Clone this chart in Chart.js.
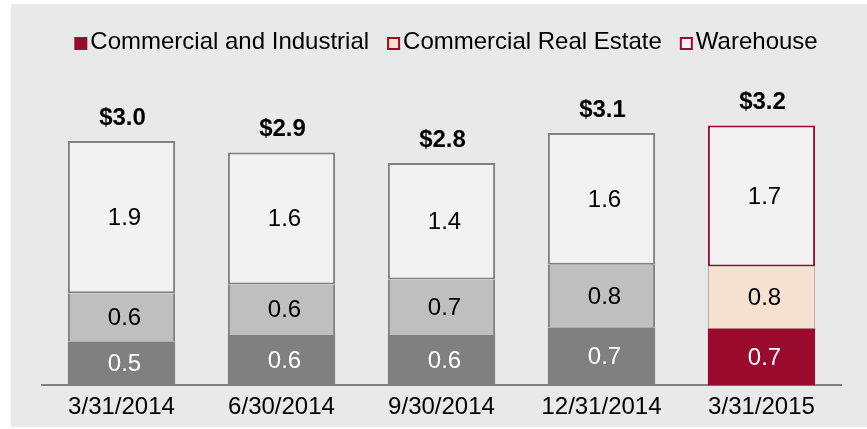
<!DOCTYPE html>
<html>
<head>
<meta charset="utf-8">
<script src="https://cdn.jsdelivr.net/npm/chart.js@4.4.1/dist/chart.umd.min.js"></script>
<style>
  html, body { margin: 0; padding: 0; background: #ffffff; }
  #wrap { width: 867px; height: 429px; }
</style>
</head>
<body>
<div id="wrap"><canvas id="loans" width="867" height="429"></canvas></div>
<script>
const categories = ["3/31/2014", "6/30/2014", "9/30/2014", "12/31/2014", "3/31/2015"];
const seriesNames = ["Commercial and Industrial", "Commercial Real Estate", "Warehouse"];
const commercialIndustrial = [0.54, 0.62, 0.62, 0.71, 0.70];
const commercialRealEstate = [0.59, 0.62, 0.68, 0.77, 0.76];
const warehouse = [1.87, 1.62, 1.43, 1.62, 1.73];
const totalLabels = ["$3.0", "$2.9", "$2.8", "$3.1", "$3.2"];

const RED = "#9a0a2d";
const FONT = "'Liberation Sans', Arial, sans-serif";

// gray for the older quarters, colour for the latest one
const lastIdx = categories.length - 1;
const pick = (gray, hi) => categories.map((c, i) => i === lastIdx ? hi : gray);

const bgPlugin = {
  id: "bg",
  beforeDraw(chart) {
    const ctx = chart.ctx;
    ctx.save();
    ctx.fillStyle = "#e9e9e9";
    ctx.fillRect(11, 4, 856, 423);
    ctx.restore();
  }
};

const labelPlugin = {
  id: "segLabels",
  afterDatasetsDraw(chart) {
    const ctx = chart.ctx;
    ctx.save();
    ctx.textAlign = "center";
    ctx.textBaseline = "middle";
    chart.data.datasets.forEach((ds, di) => {
      const meta = chart.getDatasetMeta(di);
      meta.data.forEach((bar, i) => {
        ctx.font = "24px " + FONT;
        ctx.fillStyle = di === 0 ? "#ffffff" : "#000000";
        ctx.fillText(ds.data[i].toFixed(1), bar.x + 3, (bar.y + bar.base) / 2 + 1);
      });
    });
    // totals above each stack
    const top = chart.getDatasetMeta(chart.data.datasets.length - 1);
    ctx.font = "bold 24px " + FONT;
    ctx.fillStyle = "#000000";
    top.data.forEach((bar, i) => {
      ctx.fillText(totalLabels[i], bar.x + 1, bar.y - 23);
    });
    ctx.restore();
  }
};

const legendPlugin = {
  id: "topLegend",
  afterDraw(chart) {
    const ctx = chart.ctx;
    const fills = [RED, "#f4e1cf", "#f2f2f2"];
    const box = 13, gap = 3, between = 18;
    ctx.save();
    ctx.font = "24px " + FONT;
    const widths = seriesNames.map(n => ctx.measureText(n).width);
    const total = widths.reduce((a, w) => a + box + gap + w, 0) + between * (seriesNames.length - 1);
    let x = 446 - total / 2;
    const y = 42;
    ctx.textBaseline = "middle";
    ctx.textAlign = "left";
    seriesNames.forEach((name, i) => {
      ctx.fillStyle = fills[i];
      ctx.fillRect(x, y - 5, box, box);
      if (i > 0) {
        ctx.strokeStyle = RED;
        ctx.lineWidth = 2;
        ctx.strokeRect(x + 1, y - 4, box - 2, box - 2);
      }
      ctx.fillStyle = "#000000";
      ctx.fillText(name, x + box + gap, y);
      x += box + gap + widths[i] + between;
    });
    ctx.restore();
  }
};

new Chart(document.getElementById("loans"), {
  type: "bar",
  data: {
    labels: categories,
    datasets: [
      {
        label: seriesNames[0],
        data: commercialIndustrial,
        backgroundColor: pick("#808080", RED),
        borderWidth: 0
      },
      {
        label: seriesNames[1],
        data: commercialRealEstate,
        backgroundColor: pick("#bfbfbf", "#f4e1cf"),
        borderColor: pick("#808080", "#cf949c"),
        borderWidth: c => c.dataIndex === lastIdx
          ? { left: 1, right: 1, top: 0, bottom: 0 }
          : { left: 2, right: 2, top: 0, bottom: 0 },
        borderSkipped: false
      },
      {
        label: seriesNames[2],
        data: warehouse,
        backgroundColor: "#f2f2f2",
        borderColor: pick("#808080", RED),
        borderWidth: 2,
        borderSkipped: false
      }
    ]
  },
  options: {
    responsive: false,
    animation: false,
    devicePixelRatio: 1,
    layout: { padding: { left: 41.5, right: 25.5, top: 80, bottom: 0 } },
    datasets: { bar: { barPercentage: 0.67, categoryPercentage: 1.0 } },
    plugins: {
      legend: { display: false },
      tooltip: { enabled: false }
    },
    scales: {
      x: {
        stacked: true,
        grid: { display: false, drawTicks: false },
        border: { display: true, color: "#808080", width: 2 },
        ticks: { color: "#000000", padding: 11, font: { family: FONT, size: 24, lineHeight: 0.9 } }
      },
      y: {
        stacked: true,
        display: false,
        min: 0,
        max: 3.75
      }
    }
  },
  plugins: [bgPlugin, labelPlugin, legendPlugin]
});
</script>
</body>
</html>
